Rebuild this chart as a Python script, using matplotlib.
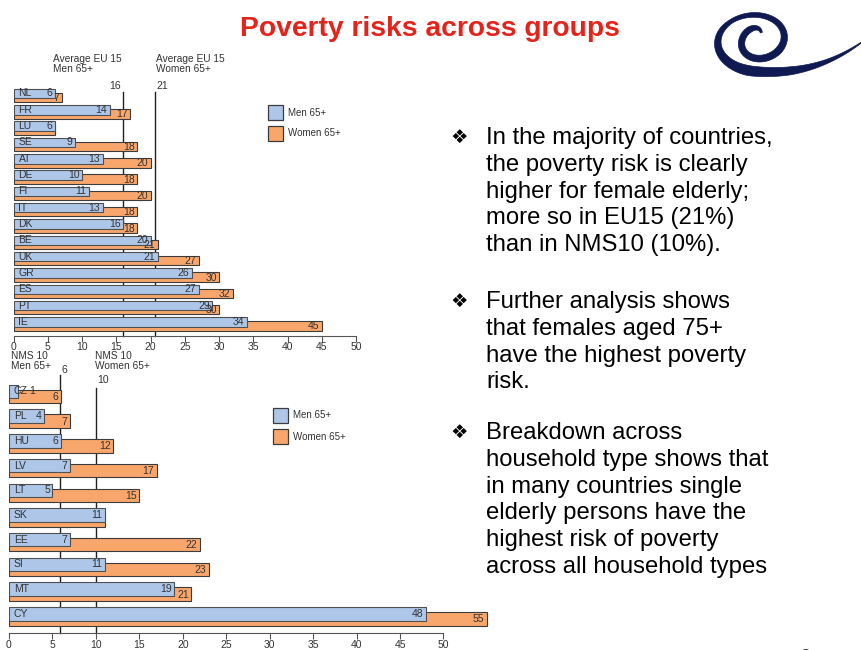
import numpy as np
import matplotlib
matplotlib.use("Agg")
import matplotlib.pyplot as plt
from matplotlib.patches import Rectangle, Polygon

plt.rcParams['font.family'] = ['Liberation Sans', 'DejaVu Sans']

# EU15 panel
eu_codes = ["NL", "FR", "LU", "SE", "AT", "DE", "FI", "IT", "DK", "BE", "UK", "GR", "ES", "PT", "IE"]
eu_men = [6, 14, 6, 9, 13, 10, 11, 13, 16, 20, 21, 26, 27, 29, 34]
eu_women = [7, 17, 6, 18, 20, 18, 20, 18, 18, 21, 27, 30, 32, 30, 45]
eu_avg_men, eu_avg_women = 16, 20.7
eu_avg_labels = ["16", "21"]

# NMS10 panel
nms_codes = ["CZ", "PL", "HU", "LV", "LT", "SK", "EE", "SI", "MT", "CY"]
nms_men = [1, 4, 6, 7, 5, 11, 7, 11, 19, 48]
nms_women = [6, 7, 12, 17, 15, 11, 22, 23, 21, 55]
nms_avg_men, nms_avg_women = 5.9, 10
nms_avg_labels = ["6", "10"]

xticks = list(range(0, 55, 5))

bullets = [
    ["In the majority of countries,", "the poverty risk is clearly", "higher for female elderly;",
     "more so in EU15 (21%)", "than in NMS10 (10%)."],
    ["Further analysis shows", "that females aged 75+", "have the highest poverty", "risk."],
    ["Breakdown across", "household type shows that", "in many countries single",
     "elderly persons have the", "highest risk of poverty", "across all household types"],
]

BLUE = "#aec7e8"
ORANGE = "#f9a66c"
EDGE = "#3c3c3c"
TXT = "#333333"
W, H = 862, 650

fig = plt.figure(figsize=(W / 100, H / 100), dpi=100)
fig.patch.set_facecolor("white")


def fx(px):
    return px / W


def fy(py):
    return 1 - py / H


def panel(codes, men, women, x0, scale, y0, step, top, bottom, bar_h, off, avgs, avg_labels, avg_tops, lab_y):
    xmax = 57
    ax = fig.add_axes([fx(x0), fy(bottom), xmax * scale / W, (bottom - top) / H])
    n = len(codes)
    ypos = np.arange(n)
    h = bar_h / step
    o = off / step
    ax.barh(ypos + o, women, height=h, color=ORANGE, edgecolor=EDGE, linewidth=0.8, zorder=2)
    ax.barh(ypos, men, height=h, color=BLUE, edgecolor="#505050", linewidth=0.8, zorder=3)
    ax.set_xlim(0, xmax)
    ax.set_ylim((bottom - y0) / step, (top - y0) / step)
    pad = 2.5 / scale
    for i in range(n):
        ax.text(0.7 * 6.85 / scale, ypos[i], codes[i], ha="left", va="center", fontsize=7.5, color=TXT, zorder=4)
        ax.text(max(men[i], 3.3) - pad, ypos[i], str(men[i]), ha="right", va="center",
                fontsize=7.5, color=TXT, zorder=4)
        if women[i] != men[i]:
            ax.text(women[i] - pad, ypos[i] + o + 0.5 / step, str(women[i]), ha="right", va="center",
                    fontsize=7.5, color=TXT, zorder=4)
    for j, (v, lab, t) in enumerate(zip(avgs, avg_labels, avg_tops)):
        ax.plot([v, v], [(t - y0) / step, (bottom - y0) / step], color="#222222", lw=1.0,
                zorder=1, clip_on=False)
        ha = "right" if (j == 0 and lab_y[2]) else "left"
        dx = -0.4 * 6.85 / scale if ha == "right" else 0.2 * 6.85 / scale
        ax.text(v + dx, (lab_y[j] - y0) / step, lab, ha=ha, va="center", fontsize=7.5, color=TXT)
    for s in ["left", "top", "right"]:
        ax.spines[s].set_visible(False)
    ax.spines["bottom"].set_bounds(0, 50)
    ax.spines["bottom"].set_color("#555555")
    ax.set_xticks(xticks)
    ax.set_xticklabels([str(t) for t in xticks])
    ax.tick_params(axis="x", colors="#555555", labelcolor=TXT, labelsize=7.5, length=4, pad=1)
    ax.set_yticks([])
    ax.set_facecolor("none")
    return ax


panel(eu_codes, eu_men, eu_women, 13.7, 6.85, 93.5, 16.32, 80, 335.5, 9.5, 4,
      [eu_avg_men, eu_avg_women], eu_avg_labels, [92, 92], [86, 86, True])
panel(nms_codes, nms_men, nms_women, 9, 8.69, 391.3, 24.74, 370, 632.7, 13.5, 5,
      [nms_avg_men, nms_avg_women], nms_avg_labels, [375, 388], [370, 380, False])

# panel headers
for x, txt in [(53, "Average EU 15\nMen 65+"), (156, "Average EU 15\nWomen 65+"),
               (11, "NMS 10\nMen 65+"), (95, "NMS 10\nWomen 65+")]:
    y = 54 if "EU" in txt else 351
    fig.text(fx(x), fy(y), txt, ha="left", va="top", fontsize=7.3, color=TXT, linespacing=0.95)

# legends
for lx, ly in [(268, 105), (273, 408)]:
    for k, (c, lab) in enumerate([(BLUE, "Men 65+"), (ORANGE, "Women 65+")]):
        yy = ly + k * 21
        fig.add_artist(Rectangle((fx(lx), fy(yy + 15)), 15 / W, 15 / H, transform=fig.transFigure,
                                 facecolor=c, edgecolor=EDGE, linewidth=0.9))
        fig.text(fx(lx + 20), fy(yy + 7.5), lab, ha="left", va="center", fontsize=7, color=TXT)

# title
fig.text(fx(430), fy(36), "Poverty risks across groups", ha="center", va="baseline",
         fontsize=20.3, fontweight="bold", color="#e3241b")

# bullet text
for block, start in zip(bullets, [144, 308, 439]):
    fig.text(fx(459), fy(start - 7), "\u2756", ha="center", va="center", fontsize=14,
             color="black", family=["DejaVu Sans"])
    for k, line in enumerate(block):
        fig.text(fx(486), fy(start + k * 26.8), line, ha="left", va="baseline",
                 fontsize=17.2, color="black")

# logo swirl
th = np.linspace(0.25 * np.pi, 3.5 * np.pi, 200)
rx = 3 + 3.82 * th
ry = 8.75 + 2.07 * th
cx, cy = 757, 40
xs = cx + rx * np.cos(th)
ys = cy - ry * np.sin(th)
t = np.linspace(0, 1, 80)[1:]
p0 = np.array([xs[-1], ys[-1]])
p1 = np.array([815, 76])
p2 = np.array([862, 42])
tail = ((1 - t) ** 2)[:, None] * p0 + (2 * (1 - t) * t)[:, None] * p1 + (t ** 2)[:, None] * p2
px = np.concatenate([xs, tail[:, 0]])
py = np.concatenate([ys, tail[:, 1]])
s = np.linspace(0, 1, len(px))
wid = np.interp(s, [0, 0.1, 0.35, 0.55, 0.7, 0.8, 0.9, 1.0], [2, 6, 7, 4, 10, 8, 4, 0.8])
dx = np.gradient(px)
dy = np.gradient(py)
nrm = np.hypot(dx, dy)
nx, ny = -dy / nrm, dx / nrm
left = np.column_stack([px + nx * wid / 2, py + ny * wid / 2])
right = np.column_stack([px - nx * wid / 2, py - ny * wid / 2])
poly = np.vstack([left, right[::-1]])
poly = np.column_stack([poly[:, 0] / W, 1 - poly[:, 1] / H])
fig.add_artist(Polygon(poly, closed=True, transform=fig.transFigure, facecolor="#101a52",
                       edgecolor="#101a52", linewidth=0.5))

fig.text(fx(800), fy(657), "6", ha="left", va="center", fontsize=14, color=TXT)

fig.savefig("out.png", dpi=100, facecolor="white")
